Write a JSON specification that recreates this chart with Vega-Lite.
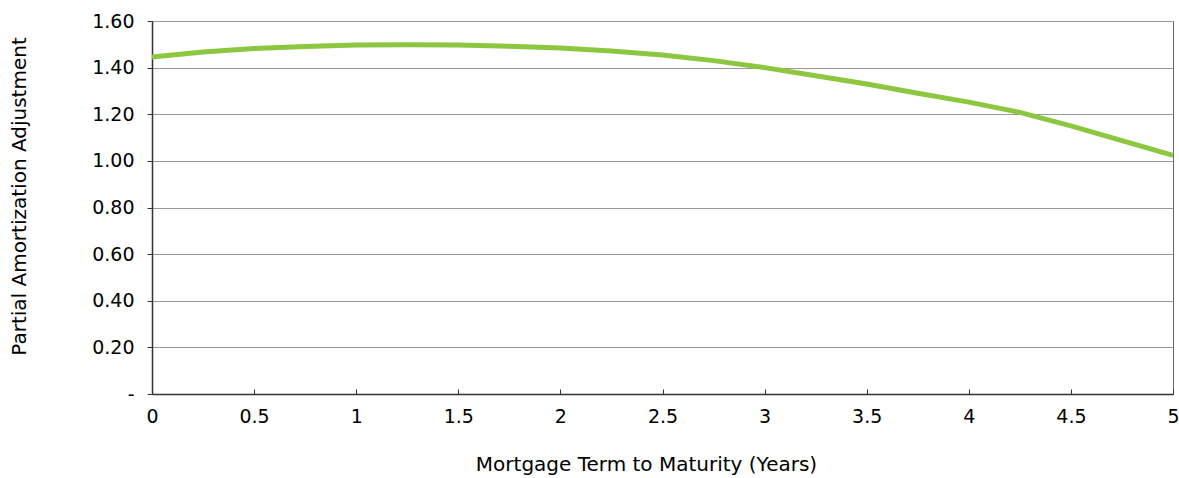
{
  "$schema": "https://vega.github.io/schema/vega-lite/v6.json",
  "width": 1021,
  "height": 373,
  "autosize": {"type": "none"},
  "padding": {"left": 152, "top": 21, "right": 6, "bottom": 84},
  "background": "white",
  "config": {
    "font": "DejaVu Sans",
    "view": {"stroke": "#666", "strokeWidth": 1},
    "axis": {"labelFont": "DejaVu Sans", "titleFont": "DejaVu Sans", "labelFontSize": 19, "titleFontSize": 20, "labelColor": "#000", "titleColor": "#000", "titleFontWeight": "normal"}
  },
  "data": {"values": [
    {"t": 0, "v": 1.446},
    {"t": 0.25, "v": 1.467},
    {"t": 0.5, "v": 1.482},
    {"t": 0.75, "v": 1.491},
    {"t": 1, "v": 1.497},
    {"t": 1.25, "v": 1.498},
    {"t": 1.5, "v": 1.497},
    {"t": 1.75, "v": 1.492},
    {"t": 2, "v": 1.484},
    {"t": 2.25, "v": 1.471},
    {"t": 2.5, "v": 1.454},
    {"t": 2.75, "v": 1.43},
    {"t": 3, "v": 1.4},
    {"t": 3.25, "v": 1.365},
    {"t": 3.5, "v": 1.33},
    {"t": 3.75, "v": 1.29},
    {"t": 4, "v": 1.252},
    {"t": 4.25, "v": 1.208},
    {"t": 4.5, "v": 1.15},
    {"t": 4.75, "v": 1.087},
    {"t": 5, "v": 1.024}
  ]},
  "mark": {"type": "line", "color": "#8dc63f", "strokeWidth": 5, "clip": false},
  "encoding": {
    "x": {
      "field": "t", "type": "quantitative",
      "scale": {"domain": [0, 5], "nice": false, "zero": false},
      "axis": {
        "values": [0, 0.5, 1, 1.5, 2, 2.5, 3, 3.5, 4, 4.5, 5],
        "labelExpr": "format(datum.value, '~g')",
        "title": "Mortgage Term to Maturity (Years)",
        "titleX": 494,
        "grid": false,
        "domainColor": "#333", "domainWidth": 1.5,
        "tickColor": "#333", "tickSize": -5, "tickWidth": 1,
        "labelPadding": 18, "titlePadding": 28,
        "labelFlush": false
      }
    },
    "y": {
      "field": "v", "type": "quantitative",
      "scale": {"domain": [0, 1.6], "nice": false},
      "axis": {
        "values": [0, 0.2, 0.4, 0.6, 0.8, 1.0, 1.2, 1.4, 1.6],
        "labelExpr": "datum.value == 0 ? '-' : format(datum.value, '.2f')",
        "title": "Partial Amortization Adjustment",
        "titleY": 175,
        "grid": true, "gridColor": "#999", "gridWidth": 1, "gridOpacity": 1,
        "domainColor": "#333", "domainWidth": 1.5,
        "tickColor": "#333", "tickSize": 5,
        "labelPadding": 13, "titlePadding": 62,
        "labelFlush": false
      }
    }
  }
}
